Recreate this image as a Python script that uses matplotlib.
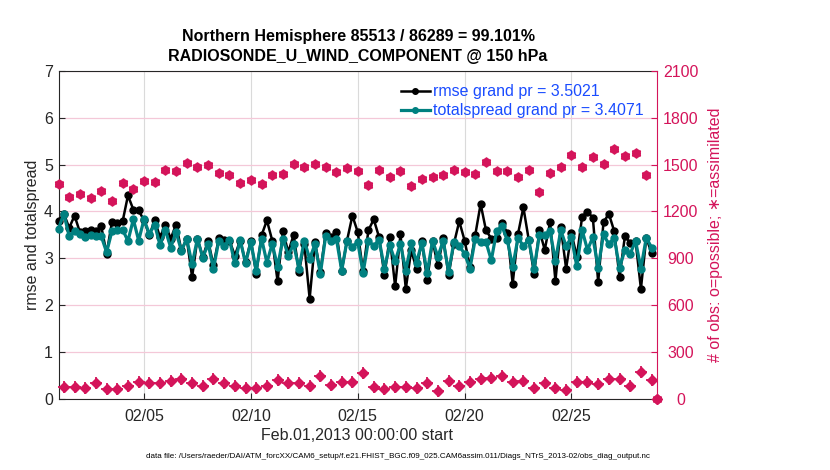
import pandas as pd
import matplotlib
matplotlib.use("Agg")
import matplotlib.pyplot as plt
import matplotlib.dates as mdates

plt.rcParams['font.family'] = ['Liberation Sans', 'DejaVu Sans']

# rmse and totalspread, every 6 hours from Feb 01 00Z
rmse = [3.79, 3.95, 3.65, 3.91, 3.56, 3.58, 3.60, 3.58, 3.68, 3.10,
        3.77, 3.75, 3.79, 4.34, 4.04, 4.02, 3.81, 3.49, 3.81, 3.45,
        3.72, 3.42, 3.72, 3.17, 3.42, 2.60, 3.42, 3.03, 3.38, 2.85,
        3.43, 3.40, 3.38, 3.06, 3.38, 2.92, 3.38, 2.67, 3.49, 3.81,
        3.38, 2.51, 3.58, 3.13, 3.50, 2.71, 3.31, 2.14, 3.35, 2.71,
        3.54, 3.45, 3.56, 2.74, 3.38, 3.91, 3.56, 2.72, 3.60, 3.83,
        3.45, 2.64, 3.45, 2.40, 3.51, 2.35, 3.17, 2.78, 3.37, 2.53,
        3.37, 2.85, 3.43, 2.64, 3.31, 3.79, 3.38, 2.82, 3.50, 4.16,
        3.60, 3.42, 3.44, 3.75, 3.54, 2.46, 3.52, 4.09, 3.40, 2.67,
        3.60, 3.18, 3.77, 2.52, 3.67, 2.78, 3.54, 3.03, 3.89, 3.99,
        3.87, 2.50, 3.77, 3.95, 3.58, 2.60, 3.47, 3.33, 3.37, 2.35,
        3.44, 3.11]
spread = [3.63, 3.95, 3.47, 3.58, 3.51, 3.45, 3.49, 3.48, 3.47, 3.13,
          3.58, 3.60, 3.61, 3.37, 3.83, 3.38, 3.83, 3.52, 3.72, 3.28,
          3.60, 3.23, 3.56, 3.16, 3.42, 2.87, 3.42, 3.01, 3.31, 2.78,
          3.38, 3.26, 3.40, 2.89, 3.40, 2.89, 3.35, 2.74, 3.42, 2.91,
          3.31, 2.82, 3.42, 3.06, 3.30, 2.78, 3.38, 2.99, 3.30, 2.67,
          3.47, 3.38, 3.42, 2.74, 3.38, 3.24, 3.35, 2.69, 3.38, 3.26,
          3.40, 2.78, 3.28, 2.94, 3.30, 2.74, 3.32, 2.91, 3.33, 2.69,
          3.38, 3.03, 3.38, 2.71, 3.34, 3.26, 3.10, 2.78, 3.42, 3.35,
          3.35, 2.96, 3.58, 3.68, 3.39, 2.81, 3.44, 3.26, 3.40, 2.78,
          3.49, 3.50, 3.58, 2.94, 3.60, 3.26, 3.45, 2.83, 3.60, 3.18,
          3.45, 2.80, 3.51, 3.30, 3.44, 2.80, 3.18, 3.10, 3.37, 2.78,
          3.44, 3.23]

# number of obs at 00Z/12Z (last bin Mar 01 00Z is empty) and at 06Z/18Z
nobs_00_12 = [1377, 1292, 1309, 1287, 1328, 1266, 1381, 1345, 1394, 1387,
              1466, 1458, 1509, 1487, 1494, 1449, 1434, 1383, 1398, 1377,
              1434, 1441, 1505, 1487, 1505, 1487, 1451, 1479, 1458, 1366,
              1468, 1419, 1456, 1360, 1409, 1419, 1434, 1466, 1451, 1441,
              1515, 1456, 1458, 1419, 1468, 1324, 1447, 1487, 1564, 1487,
              1547, 1505, 1600, 1553, 1573, 1434, 0]
nobs_06_18 = [74, 79, 68, 100, 62, 62, 83, 106, 100, 100,
              117, 128, 100, 83, 126, 100, 85, 68, 68, 83,
              121, 100, 100, 83, 147, 89, 106, 106, 164, 74,
              62, 74, 74, 68, 100, 53, 117, 85, 111, 126,
              134, 147, 106, 117, 68, 100, 68, 57, 106, 106,
              94, 126, 128, 85, 170, 121]

legende = ["rmse grand pr = 3.5021", "totalspread grand pr = 3.4071"]
jours_ticks = ["2013-02-05", "2013-02-10", "2013-02-15", "2013-02-20", "2013-02-25"]

t = pd.date_range("2013-02-01 00:00", periods=len(rmse), freq="6h")
t_syn = pd.date_range("2013-02-01 00:00", periods=len(nobs_00_12), freq="12h")
t_off = pd.date_range("2013-02-01 06:00", periods=len(nobs_06_18), freq="12h")

MAGENTA = "#d4145a"
TEAL = "#008080"
GRIS = "#262626"
BLEU = "#1a4cff"

fig = plt.figure(figsize=(8.3, 4.7), dpi=100)
ax = fig.add_axes([0.0705, 0.151, 0.721, 0.6985])
ax2 = ax.twinx()

l1, = ax.plot(t, rmse, "-o", color="black", lw=1.8, ms=5, clip_on=False, zorder=3)
l2, = ax.plot(t, spread, "-o", color=TEAL, lw=2.3, ms=5, clip_on=False, zorder=4)

ax.set_xlim(pd.Timestamp("2013-02-01"), pd.Timestamp("2013-03-01"))
ax.set_ylim(0, 7)
ax.set_yticks(range(0, 8))
ax.set_xticks(pd.to_datetime(jours_ticks))
ax.xaxis.set_major_formatter(mdates.DateFormatter("%m/%d"))
ax.tick_params(direction="in", length=4, colors=GRIS, labelsize=11.5)
ax.tick_params(axis="x", pad=7)
ax.tick_params(axis="y", pad=4)
ax.grid(axis="x", color="#dadada", lw=0.8)
ax.grid(axis="y", color="#f4c8d8", lw=0.9)
ax.set_axisbelow(True)
for s in ["left", "bottom", "top"]:
    ax.spines[s].set_color(GRIS)
ax.spines["right"].set_visible(False)

# nombre d'observations, axe de droite
ax2.plot(t_syn, nobs_00_12, "o", color=MAGENTA, ms=5.5, clip_on=False)
ax2.plot(t_syn, nobs_00_12, marker=(6, 2, 0), ls="none", color=MAGENTA, ms=7, mew=1.2, clip_on=False)
ax2.plot(t_off, nobs_06_18, "D", color=MAGENTA, ms=5, clip_on=False)
ax2.plot(t_off, nobs_06_18, "+", color=MAGENTA, ms=8, mew=1.3, clip_on=False)
ax2.plot(t_syn[-1:], nobs_00_12[-1:], "D", color=MAGENTA, ms=5, clip_on=False)
ax2.set_ylim(0, 2100)
ax2.set_yticks(range(0, 2101, 300))
ax2.tick_params(direction="in", length=4, colors=MAGENTA, labelsize=11.5, pad=17)
for lbl in ax2.get_yticklabels():
    lbl.set_horizontalalignment("center")
ax2.spines["right"].set_color(MAGENTA)
for s in ["left", "bottom", "top"]:
    ax2.spines[s].set_visible(False)

leg = ax.legend([l1, l2], legende, loc="upper right", frameon=False, fontsize=11.5,
                handlelength=1.8, handletextpad=0.2, labelspacing=0.25,
                borderaxespad=0.45, markerscale=0.8)
for txt in leg.get_texts():
    txt.set_color(BLEU)

fig.text(358/830, 1-36/470, "Northern Hemisphere 85513 / 86289 = 99.101%",
         ha="center", va="center", fontsize=11.5, fontweight="bold")
fig.text(358/830, 1-57/470, "RADIOSONDE_U_WIND_COMPONENT @ 150 hPa",
         ha="center", va="center", fontsize=11.5, fontweight="bold")
fig.text(32/830, 0.5, "rmse and totalspread", rotation=90, ha="center", va="center",
         fontsize=11.5, color=GRIS)
fig.text(715/830, 0.5, "# of obs: o=possible; \u2217=assimilated", rotation=90,
         ha="center", va="center", fontsize=11.5, color=MAGENTA)
fig.text(357/830, 1-435/470, "Feb.01,2013 00:00:00 start", ha="center", va="center",
         fontsize=11.5, color=GRIS)
fig.text(398/830, 1-456/470,
         "data file: /Users/raeder/DAI/ATM_forcXX/CAM6_setup/f.e21.FHIST_BGC.f09_025.CAM6assim.011/Diags_NTrS_2013-02/obs_diag_output.nc",
         ha="center", va="center", fontsize=5.8, color="black")

fig.savefig("out.png", dpi=100)
